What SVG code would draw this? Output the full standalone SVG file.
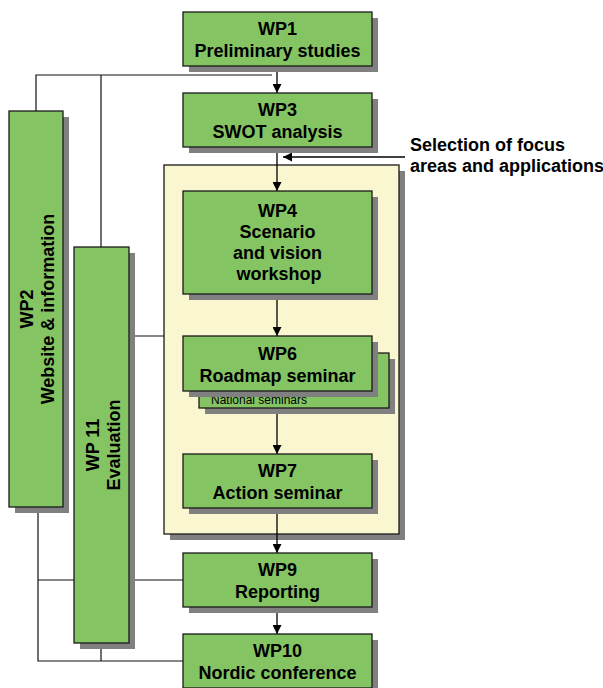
<svg xmlns="http://www.w3.org/2000/svg" width="603" height="688" viewBox="0 0 603 688">
  <defs>
    <marker id="arrow" viewBox="0 0 10 10" refX="10" refY="5" markerWidth="9" markerHeight="9" markerUnits="userSpaceOnUse" orient="auto">
      <path d="M0,0 L10,5 L0,10 Z" fill="#000"/>
    </marker>
  </defs>
  <style>
    .shadow { fill: #808080; }
    .box { fill: #85c462; stroke: #1a1a1a; stroke-width: 1.3; }
    .zone { fill: #faf6cf; stroke: #1a1a1a; stroke-width: 1.3; }
    .lbl { font-family: "Liberation Sans", Arial, sans-serif; font-weight: bold; font-size: 18px; fill: #000; text-anchor: middle; }
    .note { font-family: "Liberation Sans", Arial, sans-serif; font-weight: bold; font-size: 18px; fill: #000; }
    .small { font-family: "Liberation Sans", Arial, sans-serif; font-size: 12px; fill: #000; }
    .line { fill: none; stroke: #111; stroke-width: 1.2; }
    .arr { fill: none; stroke: #000; stroke-width: 1.3; marker-end: url(#arrow); }
  </style>

  <rect width="603" height="688" fill="#fff"/>

  <!-- phase 2 container -->
  <g id="workshops-zone">
    <rect class="shadow" x="170" y="171" width="235" height="369"/>
    <rect class="zone" x="164" y="165" width="235" height="369"/>
  </g>

  <!-- connectors -->
  <g id="connectors">
    <polyline class="line" points="36,111 36,75 272,75"/>
    <line class="line" x1="101" y1="75" x2="101" y2="247"/>
    <line class="line" x1="129" y1="336" x2="164" y2="336"/>
    <polyline class="line" points="38,507 38,661 183,661"/>
    <line class="line" x1="38" y1="580" x2="74" y2="580"/>
    <line class="line" x1="129" y1="580" x2="183" y2="580"/>
    <line class="line" x1="101" y1="643" x2="101" y2="661"/>
    <line class="arr" x1="277" y1="66" x2="277" y2="93"/>
    <line class="arr" x1="277" y1="147" x2="277" y2="191"/>
    <line class="arr" x1="405" y1="157" x2="283" y2="157"/>
    <line class="arr" x1="277" y1="294" x2="277" y2="336"/>
    <line class="arr" x1="277" y1="408" x2="277" y2="454"/>
    <line class="arr" x1="277" y1="508" x2="277" y2="553"/>
    <line class="arr" x1="277" y1="607" x2="277" y2="634"/>
  </g>

  <g id="wp1">
    <rect class="shadow" x="189" y="18" width="189" height="54"/>
    <rect class="box" x="183" y="12" width="189" height="54"/>
    <text class="lbl" x="277.5" y="35">WP1</text>
    <text class="lbl" x="277.5" y="57">Preliminary studies</text>
  </g>

  <g id="wp3">
    <rect class="shadow" x="189" y="99" width="189" height="54"/>
    <rect class="box" x="183" y="93" width="189" height="54"/>
    <text class="lbl" x="277.5" y="116">WP3</text>
    <text class="lbl" x="277.5" y="138">SWOT analysis</text>
  </g>

  <g id="focus-note">
    <text class="note" x="410" y="151">Selection of focus</text>
    <text class="note" x="410" y="172">areas and applications</text>
  </g>

  <g id="wp4">
    <rect class="shadow" x="189" y="197" width="189" height="103"/>
    <rect class="box" x="183" y="191" width="189" height="103"/>
    <text class="lbl" x="277.5" y="217">WP4</text>
    <text class="lbl" x="277.5" y="238">Scenario</text>
    <text class="lbl" x="277.5" y="259">and vision</text>
    <text class="lbl" x="279" y="280">workshop</text>
  </g>

  <g id="national-seminars">
    <rect class="shadow" x="205" y="359" width="190" height="55"/>
    <rect class="box" x="199" y="353" width="190" height="55"/>
    <text class="small" x="211" y="404">National seminars</text>
  </g>

  <g id="wp6">
    <rect class="shadow" x="189" y="342" width="189" height="55"/>
    <rect class="box" x="183" y="336" width="189" height="55"/>
    <text class="lbl" x="277.5" y="360">WP6</text>
    <text class="lbl" x="277.5" y="382">Roadmap seminar</text>
  </g>

  <g id="wp7">
    <rect class="shadow" x="189" y="460" width="189" height="54"/>
    <rect class="box" x="183" y="454" width="189" height="54"/>
    <text class="lbl" x="277.5" y="477">WP7</text>
    <text class="lbl" x="277.5" y="499">Action seminar</text>
  </g>

  <g id="wp9">
    <rect class="shadow" x="189" y="559" width="189" height="54"/>
    <rect class="box" x="183" y="553" width="189" height="54"/>
    <text class="lbl" x="277.5" y="576">WP9</text>
    <text class="lbl" x="277.5" y="598">Reporting</text>
  </g>

  <g id="wp10">
    <rect class="shadow" x="189" y="640" width="189" height="54"/>
    <rect class="box" x="183" y="634" width="189" height="54"/>
    <text class="lbl" x="277.5" y="657">WP10</text>
    <text class="lbl" x="277.5" y="679">Nordic conference</text>
  </g>

  <g id="wp2">
    <rect class="shadow" x="15" y="117" width="54" height="396"/>
    <rect class="box" x="9" y="111" width="54" height="396"/>
    <g transform="translate(36,309) rotate(-90)">
      <text class="lbl" x="0" y="-3">WP2</text>
      <text class="lbl" x="0" y="18">Website &amp; information</text>
    </g>
  </g>

  <g id="wp11">
    <rect class="shadow" x="80" y="253" width="55" height="396"/>
    <rect class="box" x="74" y="247" width="55" height="396"/>
    <g transform="translate(101.5,445) rotate(-90)">
      <text class="lbl" x="0" y="-3">WP 11</text>
      <text class="lbl" x="0" y="18">Evaluation</text>
    </g>
  </g>
</svg>
